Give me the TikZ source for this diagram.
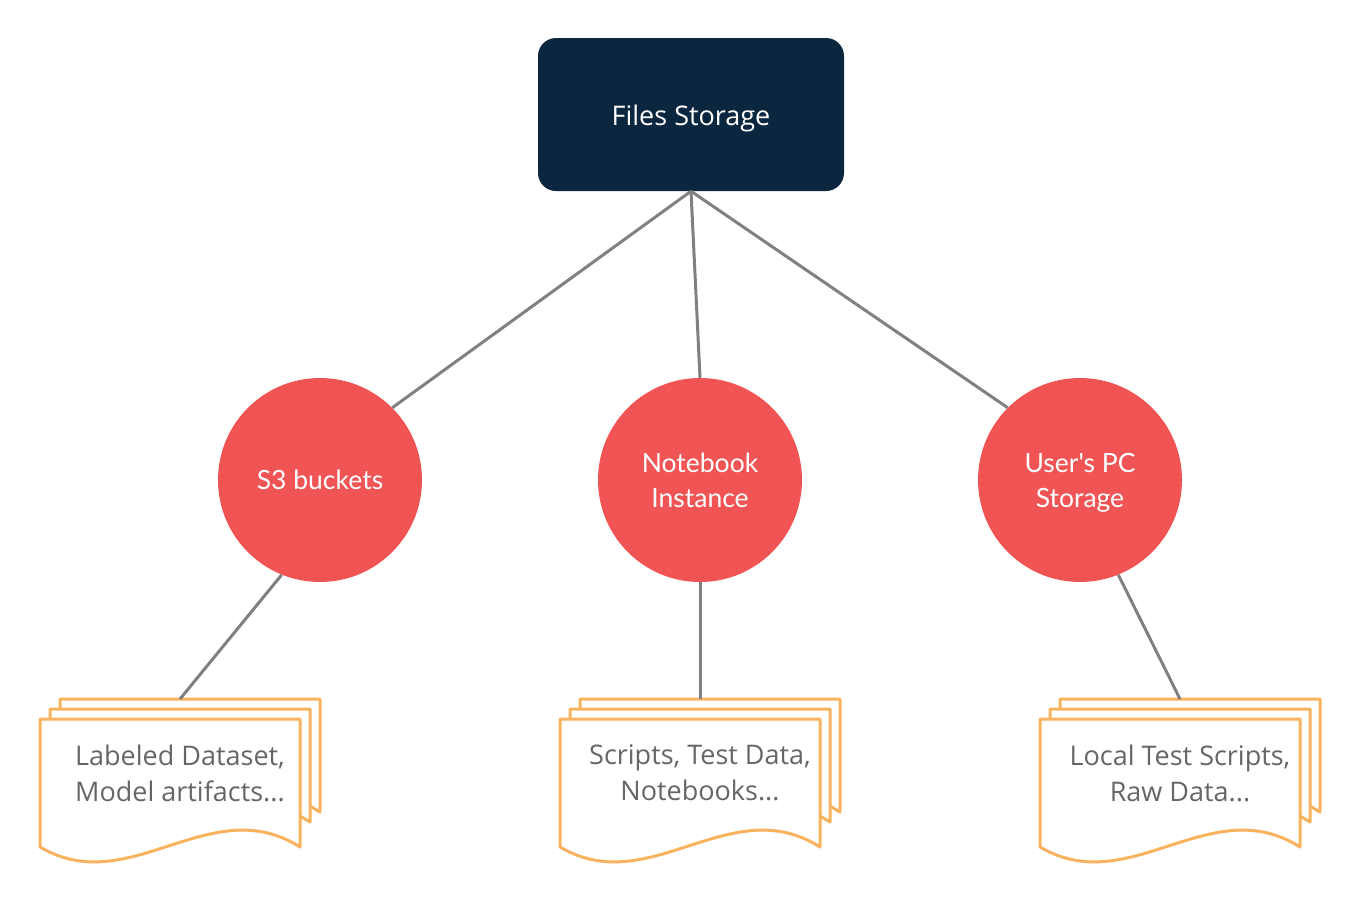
\documentclass[tikz,border=0pt]{standalone}
\usepackage{fontspec}
\setmainfont{Open Sans}
\newfontfamily\latofont{Lato}
\definecolor{navy}{HTML}{0B2740}
\definecolor{redc}{HTML}{F05454}
\definecolor{orng}{HTML}{F9B35F}
\definecolor{linec}{HTML}{808080}
\definecolor{txtc}{HTML}{666666}
\newcommand\docstack[3]{%
  \begin{scope}[shift={(#1,0)}]
    \path[page] (20,699) -- (280,699) -- (280,812) -- (260,800) -- (20,800) -- cycle;
    \path[page] (10,709) -- (270,709) -- (270,822) -- (250,810) -- (10,810) -- cycle;
    \path[page] (0,719) -- (260,719) -- (260,847) .. controls (170,790) and (90,900) .. (0,847) -- cycle;
  \end{scope}
  \node[doctext] (#2) at (#1+140,773) {#3};
  \coordinate (#2top) at (#1+140,699);
}
\newcommand\lowered[2]{\raisebox{-#1}[\height][\depth]{#2}}
\begin{document}
\begin{tikzpicture}[x=1pt,y=-1pt,
  conn/.style={draw=linec, line width=3pt},
  topbox/.style={rectangle, rounded corners=18pt, fill=navy, minimum width=306pt, minimum height=153pt, inner sep=0pt, text=white, font=\fontsize{27}{31}\selectfont},
  circ/.style={circle, fill=redc, minimum size=204pt, inner sep=0pt, text=white, align=center, font=\latofont\fontsize{26.5}{35}\selectfont},
  page/.style={draw=orng, fill=white, line width=3pt, line join=round},
  doctext/.style={text=txtc, align=center, font=\fontsize{27}{36}\selectfont}]
\useasboundingbox (0,0) rectangle (1360,900);

\node[topbox] (fs) at (691,114.5) {\lowered{4pt}{Files Storage}};
\node[circ] (s3) at (320,480) {S3 buckets};
\node[circ] (nb) at (700,480) {Notebook\\Instance};
\node[circ] (pc) at (1080,480) {\lowered{3pt}{\begin{tabular}{@{}c@{}}User's PC\\Storage\end{tabular}}};

\docstack{40}{d1}{Labeled Dataset,\\Model artifacts...}
\docstack{560}{d2}{Scripts, Test Data,\\Notebooks...}
\docstack{1040}{d3}{Local Test Scripts,\\Raw Data...}

\draw[conn] (fs.south) -- (s3.north east);
\draw[conn] (fs.south) -- (nb.north);
\draw[conn] (fs.south) -- (pc.north west);
\draw[conn] (s3.248) -- (d1top);
\draw[conn] (nb.south) -- (d2top);
\draw[conn] (pc.292) -- (d3top);
\end{tikzpicture}
\end{document}
